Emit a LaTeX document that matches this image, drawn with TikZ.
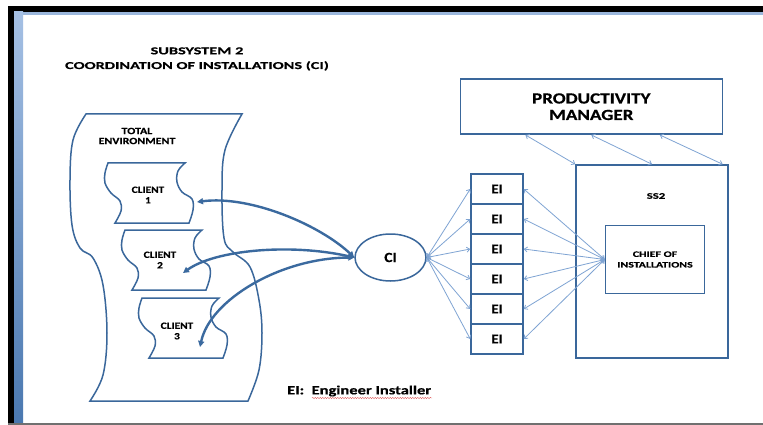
\documentclass[tikz,border=0pt]{standalone}
\usepackage{fontspec}
\setmainfont{Carlito}
\usetikzlibrary{arrows.meta,decorations.pathmorphing,shapes.geometric,calc}
\definecolor{edge}{HTML}{3A679B}
\definecolor{thinc}{HTML}{7FA4D3}
\definecolor{thickc}{HTML}{3B6A9F}
\definecolor{topblue}{HTML}{9BB7DC}
\definecolor{lbluetop}{HTML}{A5C0E4}
\definecolor{lbluebot}{HTML}{4A78B0}
\definecolor{botgray}{HTML}{707070}
\definecolor{spellred}{HTML}{E06060}
\newcommand\clientshape[2]{%
  \draw[tape] plot[smooth,tension=0.6] coordinates {(#1,#2) ({#1-3},{#2+10}) ({#1-3},{#2+20}) ({#1+3},{#2+30}) ({#1+12},{#2+38}) ({#1+13},{#2+48}) ({#1+7},{#2+60})}
   -- plot[smooth,tension=0.6] coordinates {({#1+81},{#2+60}) ({#1+85},{#2+47}) ({#1+84},{#2+36}) ({#1+74},{#2+29}) ({#1+69},{#2+19}) ({#1+70},{#2+8}) ({#1+77},{#2})} -- cycle;}
\begin{document}
\begin{tikzpicture}[x=1pt,y=-1pt,
  txt/.style n args={3}{font={\bfseries\fontsize{#1}{#2}\selectfont\addfontfeatures{FakeStretch=#3,FakeBold=0.6}}, align=center, inner sep=0pt, text=black},
  box/.style={draw=edge, line width=1.5pt, fill=white},
  tape/.style={draw=edge, line width=1.5pt},
  thinarrow/.style={draw=thinc, line width=0.8pt, {Straight Barb[length=3pt,width=5pt]}-{Straight Barb[length=3pt,width=5pt]}},
  thickarrow/.style={draw=thickc, line width=2.4pt, {Triangle[length=6pt,width=6pt]}-{Triangle[length=6pt,width=6pt]}}
]
\useasboundingbox (0,0) rectangle (763,425);
% frame
\fill[white] (0,0) rectangle (763,425);
\fill[black] (8,6) rectangle (763,12);
\fill[black] (8,6) rectangle (14,425);
\fill[topblue] (14,12) rectangle (763,15);
\shade[top color=lbluetop, bottom color=lbluebot] (14,12) rectangle (23,423);
\fill[botgray] (8,423) rectangle (763,425);

% title
\node[txt={10.5}{14.7}{1.55}] (title) at (197,59) {SUBSYSTEM 2\\COORDINATION OF INSTALLATIONS (CI)};

% total environment
\draw[tape] plot[smooth, tension=0.6] coordinates {(86,114) (73,140) (70,180) (72,225) (80,248) (93,258) (103,285) (107,333) (103,375) (90,401)}
  -- plot[smooth, tension=0.6] coordinates {(248,401) (259,370) (262,333) (259,300) (250,267) (233,252) (224,238) (222,190) (225,150) (242,114)} -- cycle;
\node[txt={9.5}{10}{1.26}] (tenv) at (137,136) {TOTAL\\ENVIRONMENT};

% clients
\clientshape{108}{163}
\clientshape{125}{230}
\clientshape{142}{298}
\node[txt={9.5}{10.5}{1.2}] (cl1) at (148,195) {CLIENT\\1};
\node[txt={9.5}{10.5}{1.2}] (cl2) at (160,260) {CLIENT\\2};
\node[txt={9.5}{10.5}{1.2}] (cl3) at (177,331) {CLIENT\\3};
\coordinate (c1tip) at (197,202);
\coordinate (c2tip) at (183,273);
\coordinate (c3tip) at (200,347);

% CI
\node[box, ellipse, minimum width=71, minimum height=47, txt={14}{14}{1.1}] (ci) at (390.5,257.5) {CI};

% EI stack
\foreach \i in {0,...,5}{
  \node[box, minimum width=52, minimum height=30, txt={13.5}{13.5}{1.1}] (ei\i) at (497,{189+30*\i}) {EI};
}

% productivity manager
\node[box, minimum width=262, minimum height=55, txt={15.5}{16.5}{1.23}] (pm) at (591.3,106.7) {PRODUCTIVITY\\MANAGER};

% SS2
\node[box, minimum width=152, minimum height=193] (ss2) at (652,261.5) {};
\node[txt={8.5}{9}{1.5}] (ss2lbl) at (656,196) {SS2};
\node[box, minimum width=99, minimum height=68, txt={8.3}{10.6}{1.43}] (chief) at (655,259.5) {CHIEF OF\\INSTALLATIONS};

% legend
\node[txt={12.5}{13}{1.32}, anchor=west] (legend) at (287,391) {EI:\ \ Engineer Installer};
\draw[spellred, line width=0.4pt, decorate, decoration={snake, amplitude=0.7pt, segment length=2.5pt}] (312,398) -- (432,398);

% thin arrows
\foreach \i in {0,...,5}{
  \draw[thinarrow] (ci.east) -- (ei\i.west);
  \draw[thinarrow] (chief.west) -- (ei\i.east);
}
\draw[thinarrow] ($(pm.south west)!0.25!(pm.south east)$) -- (ss2.north west);
\draw[thinarrow] (pm.south) -- (ss2.north);
\draw[thinarrow] ($(pm.south west)!0.76!(pm.south east)$) -- ($(ss2.north west)!0.96!(ss2.north east)$);

% thick arrows
\draw[thickarrow] (c1tip) .. controls (250,195) and (320,225) .. (ci.west);
\draw[thickarrow] (c2tip) .. controls (215,250) and (290,243) .. (ci.west);
\draw[thickarrow] (c3tip) .. controls (210,300) and (280,258) .. (ci.west);
\end{tikzpicture}
\end{document}
